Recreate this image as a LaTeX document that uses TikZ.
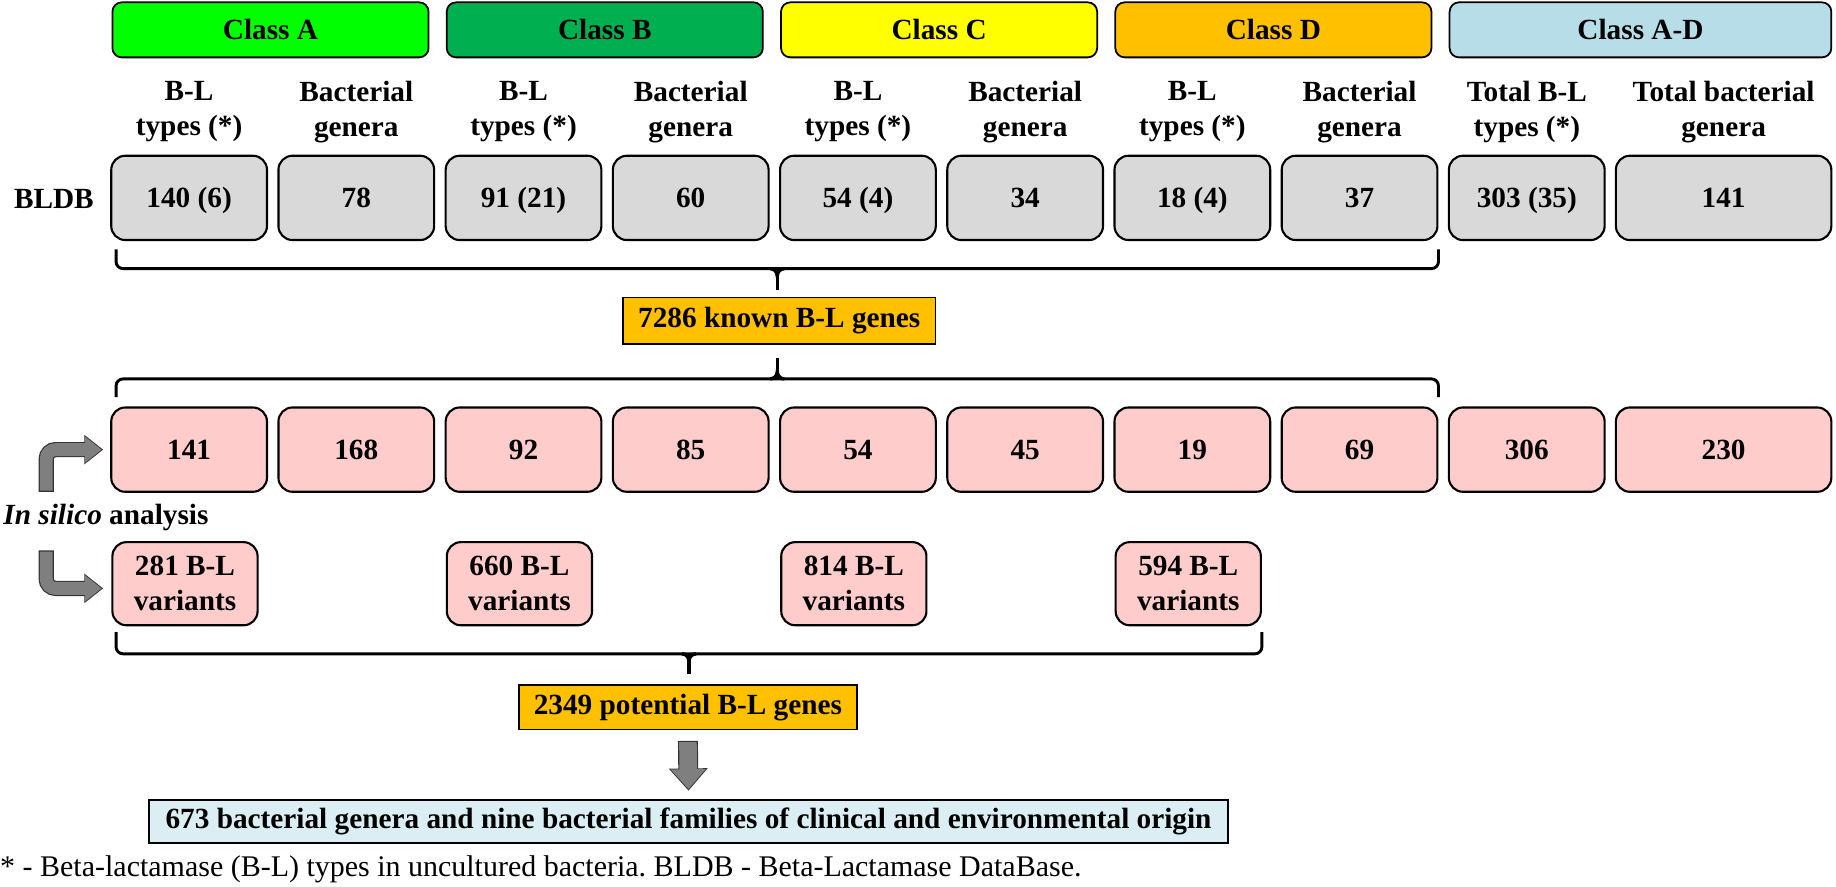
\documentclass[tikz,border=0pt]{standalone}
\usepackage{fontspec}
\setmainfont{Liberation Serif}
\usepackage{tikz}
\usetikzlibrary{arrows.meta, calc}
\usepackage{color,xcolor}
\definecolor{classA}{RGB}{0,255,0}
\definecolor{classB}{RGB}{0,176,80}
\definecolor{classC}{RGB}{255,255,0}
\definecolor{classD}{RGB}{255,192,0}
\definecolor{classAD}{RGB}{183,222,232}
\definecolor{bldbgrey}{RGB}{217,217,217}
\definecolor{silicopink}{RGB}{255,204,204}
\definecolor{originblue}{RGB}{218,238,243}
\definecolor{arrowgrey}{RGB}{127,127,127}

\begin{document}
\frenchspacing
\begin{tikzpicture}[x=1pt, y=-1pt,
    every node/.style={font=\fontsize{25}{30}\selectfont\bfseries, inner sep=0pt},
    classbox/.style={draw, line width=1.5pt, rounded corners=8pt, minimum width=270pt, minimum height=47pt},
    countbox/.style={draw, line width=1.8pt, rounded corners=12pt, minimum width=133pt, minimum height=72pt,
        text height=17pt, text depth=0pt},
    variantbox/.style={draw, line width=1.8pt, rounded corners=12pt, fill=silicopink,
        minimum width=124pt, minimum height=71pt, align=center},
    headtext/.style={align=center},
    genebox/.style={draw, line width=1.5pt, fill=classD, minimum height=40pt},
    bracket/.style={line width=2.5pt, rounded corners=6pt},
    brackettip/.style={line width=3pt},
    arrowedge/.style={draw=black!80, line width=13pt, rounded corners=8pt, -{Triangle[length=16pt,width=24pt]}},
    arrowbody/.style={draw=arrowgrey, line width=11pt, rounded corners=8pt, shorten >=1.3pt, shorten <=1pt, -{Triangle[length=14pt,width=21pt]}},
    downedge/.style={draw=black!80, line width=17pt, -{Triangle[length=19pt,width=32pt]}},
    downbody/.style={draw=arrowgrey, line width=15pt, shorten >=1.3pt, shorten <=1pt, -{Triangle[length=17pt,width=29pt]}}
    ]
    \useasboundingbox (0,0) rectangle (1568,757);
    \pgfmathsetmacro{\dx}{142.8}
    % Classes
    \foreach \c/\lab [count=\k] in {classA/Class A, classB/Class B, classC/Class C, classD/Class D}
    {
        \node[classbox, fill=\c] (h\k) at ({231+285.5*(\k-1)},25.5) {\lab};
    }
    \node[classbox, fill=classAD, minimum width=326pt] (h5) at (1401,25.5) {Class A-D};
    % Column heads
    \foreach \i in {1,3,5,7}
    {
        \node[headtext] (t\i) at ({161.5+\dx*(\i-1)},95.5) {B-L\\types (*)};
        \node[headtext] (t\i b) at ({161.5+\dx*\i},95.5) {Bacterial\\genera};
    }
    \node[headtext] (t9) at (1304,95.5) {Total B-L\\types (*)};
    \node[headtext] (t10) at (1472,95.5) {Total bacterial\\genera};
    % BLDB
    \node (bldb) at (46,170) {BLDB};
    \foreach \i/\v in {1/140 (6),2/78,3/91 (21),4/60,5/54 (4),6/34,7/18 (4),8/37,9/303 (35)}
    {
        \node[countbox, fill=bldbgrey] (g\i) at ({161.5+\dx*(\i-1)},169) {\v};
    }
    \node[countbox, fill=bldbgrey, minimum width=184pt] (g10) at (1472,169) {141};
    \node[genebox, minimum width=267pt] (known) at (665.5,274) {7286 known B-L genes};
    % In silico
    \foreach \i/\v in {1/141,2/168,3/92,4/85,5/54,6/45,7/19,8/69,9/306}
    {
        \node[countbox, fill=silicopink] (p\i) at ({161.5+\dx*(\i-1)},384) {\v};
    }
    \node[countbox, fill=silicopink, minimum width=184pt] (p10) at (1472,384) {230};
    \node (insilico) at (90.5,442) {\textit{In silico} analysis};
    \foreach \i/\v [count=\k] in {1/281,3/660,5/814,7/594}
    {
        \node[variantbox] (s\k) at ({158+\dx*(\i-1)},498.5) {\v{} B-L\\variants};
    }
    \node[genebox, minimum width=289pt, minimum height=38pt] (potential) at (587.5,604) {2349 potential B-L genes};
    \node[draw, line width=1.5pt, fill=originblue, minimum width=922pt, minimum height=37pt] (origin) at (588,701.5)
        {673 bacterial genera and nine bacterial families of clinical and environmental origin};
    \node[anchor=west, font=\fontsize{25.6}{30}\selectfont] (note) at (0,742.5)
        {* - Beta-lactamase (B-L) types in uncultured bacteria. BLDB - Beta-Lactamase DataBase.};
    % Braces
    \coordinate (b1l) at ([shift={(5,7)}]g1.south west);
    \coordinate (b1r) at ([shift={(0,7)}]g8.south east);
    \coordinate (b1m) at ($(b1l)!.5!(b1r)+(0,16.5)$);
    \draw[bracket] (b1l) |- (b1m) -| (b1r);
    \draw[brackettip] ($(b1m)+(-6,0)$) to[out=0,in=90] ($(b1m)+(0,6)$) to[out=90,in=180] ($(b1m)+(6,0)$);
    \draw[brackettip] (b1m) -- ($(b1m |- known.north)+(0,-6)$);
    \coordinate (b2l) at ([shift={(5,-8)}]p1.north west);
    \coordinate (b2r) at ([shift={(0,-8)}]p8.north east);
    \coordinate (b2m) at ($(b2l)!.5!(b2r)+(0,-15.5)$);
    \draw[bracket] (b2l) |- (b2m) -| (b2r);
    \draw[brackettip] ($(b2m)+(-6,0)$) to[out=0,in=-90] ($(b2m)+(0,-6)$) to[out=-90,in=180] ($(b2m)+(6,0)$);
    \draw[brackettip] (b2m) -- ($(b2m |- known.south)+(0,11)$);
    \coordinate (b3l) at ([shift={(4,5)}]s1.south west);
    \coordinate (b3r) at ([shift={(0,5)}]s4.south east);
    \coordinate (b3m) at ($(b3l)!.5!(b3r)+(0,18.5)$);
    \draw[bracket] (b3l) |- (b3m) -| (b3r);
    \draw[brackettip] ($(b3m)+(-6,0)$) to[out=0,in=90] ($(b3m)+(0,6)$) to[out=90,in=180] ($(b3m)+(6,0)$);
    \draw[brackettip] (b3m) -- ($(b3m |- potential.north)+(0,-8.5)$);
    % Arrows
    \coordinate (stemA) at (39.5,420);
    \coordinate (stemB) at (39.5,470);
    \draw[arrowedge] (stemA) |- ([xshift=-6pt]p1.west);
    \draw[arrowbody] (stemA) |- ([xshift=-6pt]p1.west);
    \draw[arrowedge] (stemB) |- ([shift={(-7,4)}]s1.west);
    \draw[arrowbody] (stemB) |- ([shift={(-7,4)}]s1.west);
    \draw[downedge] ([yshift=-9pt]potential.south) -- ([yshift=7pt]origin.north);
    \draw[downbody] ([yshift=-9pt]potential.south) -- ([yshift=7pt]origin.north);
\end{tikzpicture}
\end{document}
